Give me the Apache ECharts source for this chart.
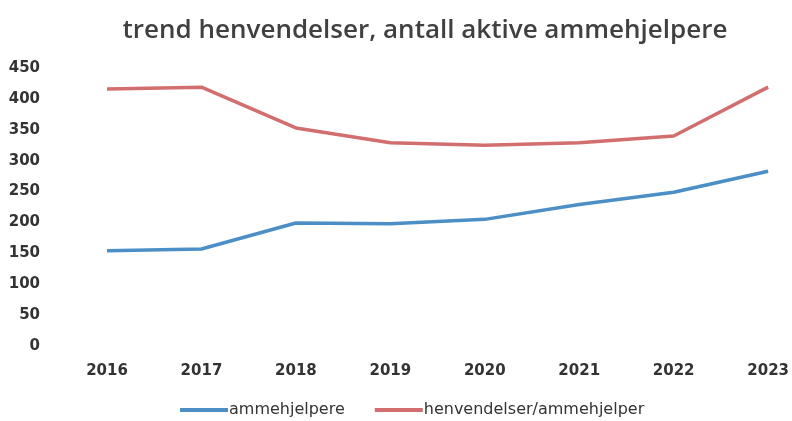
<!DOCTYPE html>
<html>
<head>
<meta charset="utf-8">
<script src="https://cdn.jsdelivr.net/npm/echarts@6/dist/echarts.min.js"></script>
<style>
  html, body { margin: 0; padding: 0; background: #fff; }
  #chart { width: 792px; height: 421px; }
</style>
</head>
<body>
<div id="chart"></div>
<script>
var years = ["2016", "2017", "2018", "2019", "2020", "2021", "2022", "2023"];
var ammehjelpere = [154, 157, 199, 198, 205, 229, 249, 283];
var henvendelserPer = [416, 419, 353, 329, 325, 329, 340, 419];
var yTicks = { min: 0, max: 450, interval: 50 };

var chart = echarts.init(document.getElementById("chart"));
var labelFont = "DejaVu Sans";

chart.setOption({
  animation: false,
  title: {
    text: "trend henvendelser, antall aktive ammehjelpere",
    top: 13,
    left: 420,
    textAlign: "center",
    textStyle: {
      fontFamily: "Open Sans",
      fontSize: 26,
      fontWeight: 600,
      color: "#404040"
    }
  },
  legend: {
    bottom: -2,
    left: 175,
    itemWidth: 48,
    itemHeight: 4,
    itemGap: 30,
    icon: "rect",
    textStyle: { fontFamily: labelFont, fontSize: 16, color: "#333", padding: [0, 0, 0, -4] },
    data: ["ammehjelpere", "henvendelser/ammehjelper"]
  },
  grid: {
    left: 107,
    right: 22,
    top: 68,
    bottom: 75
  },
  xAxis: {
    type: "category",
    boundaryGap: false,
    data: years,
    axisLine: { show: false },
    axisTick: { show: false },
    axisLabel: {
      fontFamily: labelFont,
      fontSize: 15,
      fontWeight: "bold",
      color: "#333",
      margin: 18
    }
  },
  yAxis: {
    type: "value",
    min: yTicks.min,
    max: yTicks.max,
    interval: yTicks.interval,
    splitLine: { show: false },
    axisLine: { show: false },
    axisTick: { show: false },
    axisLabel: {
      fontFamily: labelFont,
      fontSize: 15,
      fontWeight: "bold",
      color: "#333",
      margin: 67
    }
  },
  series: [
    {
      name: "ammehjelpere",
      type: "line",
      data: ammehjelpere,
      symbol: "none",
      lineStyle: { width: 3.5, color: "#4b8fc6" },
      itemStyle: { color: "#4b8fc6" }
    },
    {
      name: "henvendelser/ammehjelper",
      type: "line",
      data: henvendelserPer,
      symbol: "none",
      lineStyle: { width: 3.5, color: "#d26e6e" },
      itemStyle: { color: "#d26e6e" }
    }
  ]
});
</script>
</body>
</html>
